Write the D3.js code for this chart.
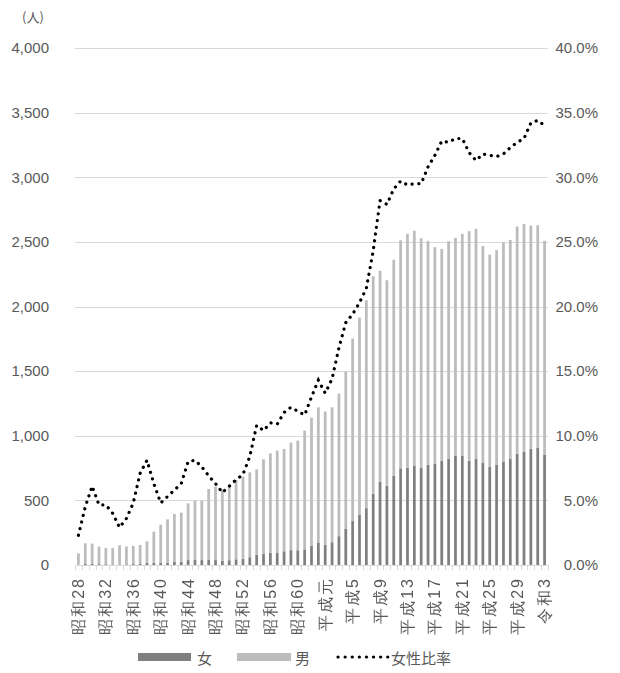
<!DOCTYPE html>
<html><head><meta charset="utf-8">
<script src="https://cdn.jsdelivr.net/npm/d3@7"></script>
<style>
html,body{margin:0;padding:0;background:#fff;}
svg{display:block;font-family:"Noto Sans CJK JP","Noto Sans",sans-serif;}
.xlabels{filter:grayscale(100%);}
</style></head><body>
<svg id="chart" width="620" height="673"></svg>
<script>
// Year labels (Japanese era), 1953–2021
const years = [
  "昭和28","昭和29","昭和30","昭和31","昭和32","昭和33","昭和34","昭和35","昭和36","昭和37",
  "昭和38","昭和39","昭和40","昭和41","昭和42","昭和43","昭和44","昭和45","昭和46","昭和47",
  "昭和48","昭和49","昭和50","昭和51","昭和52","昭和53","昭和54","昭和55","昭和56","昭和57",
  "昭和58","昭和59","昭和60","昭和61","昭和62","昭和63","平成元","平成2","平成3","平成4",
  "平成5","平成6","平成7","平成8","平成9","平成10","平成11","平成12","平成13","平成14",
  "平成15","平成16","平成17","平成18","平成19","平成20","平成21","平成22","平成23","平成24",
  "平成25","平成26","平成27","平成28","平成29","平成30","令和元","令和2","令和3"
];
// Persons (女)
const women = [
  2, 8, 10, 7, 6, 5, 4, 5, 7, 11,
  15, 16, 15, 19, 23, 26, 38, 40, 38, 41,
  38, 33, 37, 44, 48, 60, 80, 85, 95, 97,
  106, 115, 114, 121, 148, 174, 158, 176, 223, 281,
  340, 390, 440, 550, 645, 614, 690, 748, 753, 766,
  751, 775, 784, 805, 823, 844, 844, 807, 820, 789,
  761, 774, 797, 820, 860, 875, 900, 906, 851
];
// Persons (男)
const men = [
  88, 160, 156, 135, 125, 126, 148, 138, 141, 144,
  168, 242, 297, 334, 372, 379, 439, 458, 460, 547,
  568, 551, 575, 614, 636, 657, 660, 733, 769, 788,
  792, 832, 848, 919, 992, 1046, 1029, 1044, 1103, 1215,
  1412, 1524, 1609, 1684, 1631, 1589, 1672, 1765, 1809, 1820,
  1777, 1733, 1675, 1641, 1682, 1687, 1718, 1776, 1781, 1680,
  1641, 1662, 1698, 1695, 1759, 1764, 1726, 1723, 1657
];
// Female share (%)
const femaleRatio = [
  2.3, 4.5, 6.1, 4.65, 4.65, 4.0, 2.9, 3.6, 4.8, 7.1,
  8.1, 6.3, 4.8, 5.3, 5.8, 6.3, 8.0, 8.1, 7.6, 6.9,
  6.3, 5.6, 6.1, 6.6, 7.0, 8.4, 10.8, 10.4, 11.0, 10.9,
  11.8, 12.2, 11.9, 11.6, 13.0, 14.3, 13.3, 14.4, 16.8, 18.75,
  19.4, 20.3, 21.4, 24.3, 28.2, 27.9, 29.1, 29.7, 29.4, 29.5,
  29.5, 30.8, 31.7, 32.8, 32.7, 33.0, 33.0, 31.9, 31.3, 31.8,
  31.7, 31.6, 31.8, 32.3, 32.7, 33.0, 34.2, 34.4, 34.0
];
const leftTicks = [0, 500, 1000, 1500, 2000, 2500, 3000, 3500, 4000];
const rightTicks = [0, 5, 10, 15, 20, 25, 30, 35, 40];
const unitLabel = "(人)";
const seriesNames = ["女", "男", "女性比率"];
const colors = {women: "#7f7f7f", men: "#bcbcbc", ratio: "#000000"};

const rows = years.map((yr, i) => ({year: yr, women: women[i], men: men[i], ratio: femaleRatio[i]}));

const svg = d3.select("#chart");
const plotLeft = 75, plotRight = 548, plotTop = 48, plotBottom = 565;
const textColor = "#595959";

const x = d3.scaleBand().domain(years).range([plotLeft, plotRight]).paddingInner(0.6).paddingOuter(0.3);
const y = d3.scaleLinear().domain([0, 4000]).range([plotBottom, plotTop]);
const yR = d3.scaleLinear().domain([0, 40]).range([plotBottom, plotTop]);
const step = x.step(), bw = x.bandwidth();

// Horizontal gridlines
svg.append("g").selectAll("line").data(leftTicks.filter(d => d > 0)).join("line")
  .attr("x1", plotLeft).attr("x2", plotRight)
  .attr("y1", d => Math.round(y(d)) + 0.5).attr("y2", d => Math.round(y(d)) + 0.5)
  .attr("stroke", "#d9d9d9").attr("stroke-width", 1);

// Left axis labels
const yAxis = d3.axisLeft(y).tickValues(leftTicks).tickFormat(d3.format(",")).tickSize(0).tickPadding(0);
const gy = svg.append("g").attr("transform", "translate(49,0)").call(yAxis);
gy.select(".domain").remove();
gy.selectAll("text").attr("fill", textColor).style("font-size", "15px").style("font-family", "inherit");

// Right axis labels
const yRAxis = d3.axisRight(yR).tickValues(rightTicks).tickFormat(d => d3.format(".1f")(d) + "%").tickSize(0).tickPadding(0);
const gr = svg.append("g").attr("transform", "translate(556,0)").call(yRAxis);
gr.select(".domain").remove();
gr.selectAll("text").attr("fill", textColor).style("font-size", "15px").style("font-family", "inherit")
  .attr("text-anchor", "end").attr("x", 42);

// Stacked bars
const stack = d3.stack().keys(["women", "men"]);
const layers = stack(rows);
svg.append("g").selectAll("g").data(layers).join("g")
  .attr("fill", d => colors[d.key])
  .selectAll("rect").data(d => d).join("rect")
  .attr("x", d => x(d.data.year))
  .attr("width", bw)
  .attr("y", d => y(d[1]))
  .attr("height", d => y(d[0]) - y(d[1]));

// Category axis line and tick marks
svg.append("line").attr("x1", plotLeft).attr("x2", plotRight).attr("y1", plotBottom + 0.5).attr("y2", plotBottom + 0.5)
  .attr("stroke", "#d9d9d9");
svg.append("g").selectAll("line").data(d3.range(years.length + 1)).join("line")
  .attr("x1", i => Math.round(plotLeft + i * step) + 0.5).attr("x2", i => Math.round(plotLeft + i * step) + 0.5)
  .attr("y1", plotBottom).attr("y2", plotBottom + 5)
  .attr("stroke", "#d9d9d9");

const xAxis = d3.axisBottom(x)
  .tickValues(years.filter((d, i) => i % 4 === 0))
  .tickSize(0).tickPadding(0);
const gx = svg.append("g").attr("class", "xlabels").attr("transform", `translate(0,${plotBottom})`).call(xAxis);
gx.select(".domain").remove();
gx.selectAll(".tick line").remove();
gx.selectAll(".tick text")
  .attr("fill", textColor).style("font-size", "16px").style("font-family", "inherit")
  .style("letter-spacing", "2px")
  .attr("text-anchor", "end")
  .attr("dy", null)
  .attr("dominant-baseline", "central")
  .attr("transform", "translate(0,12) rotate(-90)")
  .attr("y", 0).attr("x", 0);

// Female ratio line
const line = d3.line().x(d => x(d.year) + bw / 2).y(d => yR(d.ratio));
svg.append("path").datum(rows).attr("d", line)
  .attr("fill", "none").attr("stroke", colors.ratio).attr("stroke-width", 3.2)
  .attr("stroke-linecap", "round").attr("stroke-dasharray", "0.1 6.7");

// Unit label
svg.append("text").attr("x", 22).attr("y", 22).text(unitLabel)
  .attr("fill", textColor).style("font-size", "13px");

// Legend
const lg = svg.append("g");
const ly = 657;
lg.append("rect").attr("x", 138).attr("y", ly - 4).attr("width", 53).attr("height", 8).attr("fill", colors.women);
lg.append("text").attr("x", 197).attr("y", ly).attr("dominant-baseline", "central").text(seriesNames[0])
  .attr("fill", textColor).style("font-size", "15px");
lg.append("rect").attr("x", 237).attr("y", ly - 4).attr("width", 54).attr("height", 8).attr("fill", colors.men);
lg.append("text").attr("x", 295).attr("y", ly).attr("dominant-baseline", "central").text(seriesNames[1])
  .attr("fill", textColor).style("font-size", "15px");
lg.append("line").attr("x1", 338).attr("x2", 388).attr("y1", ly).attr("y2", ly)
  .attr("stroke", colors.ratio).attr("stroke-width", 3.2).attr("stroke-linecap", "round").attr("stroke-dasharray", "0.1 7");
lg.append("text").attr("x", 391).attr("y", ly).attr("dominant-baseline", "central").text(seriesNames[2])
  .attr("fill", textColor).style("font-size", "15px");
</script>
</body></html>
